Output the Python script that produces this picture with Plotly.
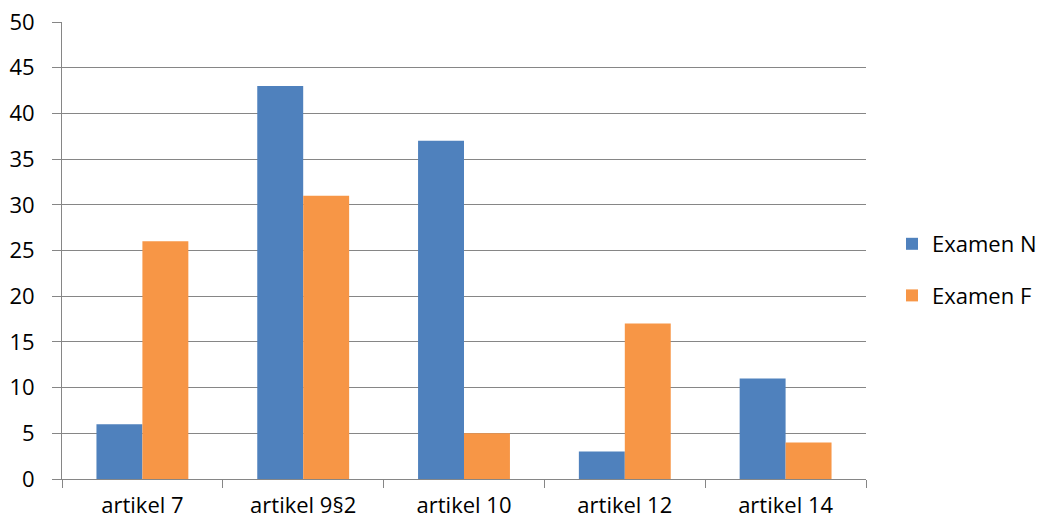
import plotly.graph_objects as go

categories = ["artikel 7", "artikel 9§2", "artikel 10", "artikel 12", "artikel 14"]
examen_n = [6, 43, 37, 3, 11]
examen_f = [26, 31, 5, 17, 4]

axis_grey = "#868686"
font_family = "'Open Sans', sans-serif"
fsize = 22

fig = go.Figure()
fig.add_trace(go.Bar(
    name="Examen N", x=categories, y=examen_n,
    marker=dict(color="#4F81BD", line=dict(width=0)),
    legendgroup="n",
))
fig.add_trace(go.Bar(
    name="Examen F", x=categories, y=examen_f,
    marker=dict(color="#F79646", line=dict(width=0)),
    legendgroup="f",
))

fig.update_layout(
    width=1041, height=522,
    margin=dict(l=62, r=175, t=22, b=43, autoexpand=False),
    paper_bgcolor="white", plot_bgcolor="white",
    barmode="group", bargap=1.5 / 3.5, bargroupgap=0,
    font=dict(family=font_family, size=fsize, color="#000000"),
    legend=dict(
        xref="container", yref="container",
        x=892 / 1041, y=1 - 270 / 522, xanchor="left", yanchor="middle",
        font=dict(size=fsize), tracegroupgap=20,
        itemwidth=30, bgcolor="rgba(0,0,0,0)",
    ),
    xaxis=dict(
        showline=True, linecolor=axis_grey, linewidth=1,
        ticks="outside", tickson="boundaries", ticklen=8, tickcolor=axis_grey,
        showgrid=False, tickfont=dict(size=fsize), ticklabelstandoff=7,
    ),
    yaxis=dict(
        range=[0, 50], dtick=5, showgrid=True, gridcolor=axis_grey, gridwidth=1,
        showline=True, linecolor=axis_grey, linewidth=1,
        ticks="outside", ticklen=9, tickcolor=axis_grey,
        zeroline=False, tickfont=dict(size=fsize), ticklabelstandoff=13,
    ),
)

fig.write_html("out.html")
